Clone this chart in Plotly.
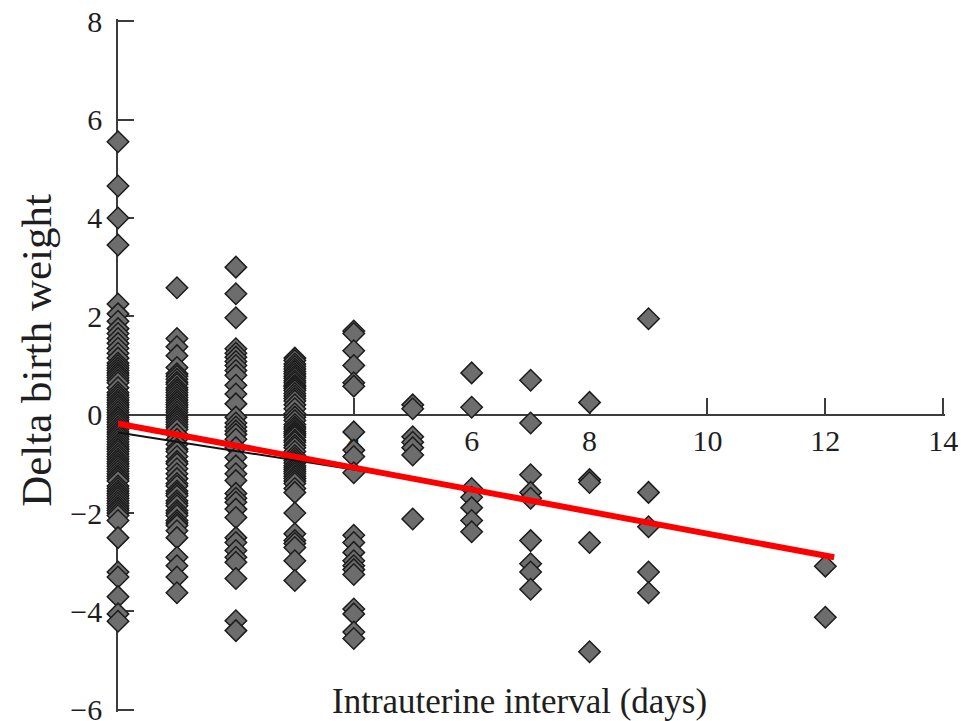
import plotly.graph_objects as go

# ---- data ----
days = [0, 1, 2, 3, 4, 5, 6, 7, 8, 9, 12]

d0 = [5.55, 4.65, 4.0, 3.45, 2.25, 2.05, 1.9, 1.75, 1.65, 1.55, 1.45, 1.35, 1.25,
      1.15, 1.05, 1.0, 0.95, 0.9, 0.85, 0.8, 0.75, 0.7, 0.65, 0.55, 0.45, 0.4,
      0.35, 0.3, 0.25, 0.2, 0.15, 0.1, 0.05, 0.0, -0.05, -0.1, -0.15, -0.2,
      -0.25, -0.3, -0.35, -0.4, -0.45, -0.5, -0.55, -0.6, -0.65, -0.7, -0.75,
      -0.8, -0.85, -0.9, -0.95, -1.0, -1.05, -1.1, -1.15, -1.2, -1.25, -1.3,
      -1.35, -1.45, -1.5, -1.55, -1.6, -1.65, -1.7, -1.75, -1.8, -1.85, -1.9,
      -1.95, -2.0, -2.05, -2.15, -2.5, -3.2, -3.3, -3.7, -4.05, -4.2]
d1 = [2.58, 1.55, 1.38, 1.2, 0.96, 0.83, 0.78, 0.72, 0.66, 0.62, 0.55, 0.5, 0.45,
      0.4, 0.35, 0.3, 0.25, 0.2, 0.15, 0.1, 0.05, 0.0, -0.05, -0.1, -0.15, -0.2,
      -0.25, -0.3, -0.4, -0.5, -0.6, -0.7, -0.75, -0.85, -0.95, -1.0, -1.1,
      -1.2, -1.3, -1.4, -1.45, -1.55, -1.6, -1.65, -1.75, -1.8, -1.85, -1.95,
      -2.0, -2.05, -2.15, -2.2, -2.25, -2.36, -2.5, -2.9, -3.07, -3.3, -3.62]
d2 = [3.0, 2.46, 1.97, 1.34, 1.25, 1.17, 1.08, 1.0, 0.9, 0.8, 0.6, 0.42, 0.22,
      -0.05, -0.17, -0.25, -0.33, -0.4, -0.5, -0.67, -0.87, -1.04, -1.2, -1.34,
      -1.6, -1.7, -1.78, -1.92, -2.09, -2.5, -2.6, -2.76, -2.9, -3.0, -3.33,
      -4.19, -4.39]
d3 = [1.15, 1.1, 1.03, 0.98, 0.93, 0.88, 0.83, 0.78, 0.74, 0.69, 0.65, 0.6,
      0.57, 0.53, 0.49, 0.43, 0.38, 0.33, 0.28, 0.2, 0.12, 0.02, -0.05, -0.12,
      -0.2, -0.25, -0.29, -0.34, -0.38, -0.42, -0.46, -0.52, -0.56, -0.62, -0.67,
      -0.75, -0.83, -0.88, -0.93, -0.98, -1.04, -1.08, -1.12, -1.16, -1.2,
      -1.25, -1.3, -1.35, -1.4, -1.5, -1.58, -2.0, -2.42, -2.56, -2.62, -2.7,
      -2.97, -3.37]
d4 = [1.7, 1.65, 1.3, 1.0, 0.65, 0.58, -0.35, -0.72, -0.85, -1.18, -2.45, -2.6,
      -2.8, -2.97, -3.07, -3.15, -3.25, -3.95, -4.05, -4.42, -4.55]
d5 = [0.2, 0.12, -0.45, -0.56, -0.67, -0.82, -2.12]
d6 = [0.85, 0.15, -1.5, -1.68, -1.89, -2.15, -2.38]
d7 = [0.7, -0.17, -1.22, -1.58, -1.7, -2.56, -3.03, -3.2, -3.55]
d8 = [0.25, -1.32, -1.38, -2.6, -4.82]
d9 = [1.95, -1.58, -2.28, -3.2, -3.62]
d12 = [-3.08, -4.12]

fit_red_x = [-0.05, 12.15]
fit_red_y = [-0.17, -2.9]
fit_black_x = [0, 5.5]
fit_black_y = [-0.36, -1.4]

x_ticks = [2, 4, 6, 8, 10, 12, 14]
y_ticks = [-6, -4, -2, 0, 2, 4, 6, 8]
y_ticktext = ["\u22126", "\u22124", "\u22122", "0", "2", "4", "6", "8"]

# ---- build points ----
columns = [d0, d1, d2, d3, d4, d5, d6, d7, d8, d9, d12]
xs, ys = [], []
for dval, col in zip(days, columns):
    for v in col:
        xs.append(dval)
        ys.append(v)

FONT = "Liberation Serif"
AX = "#3c3c3c"
TXT = "#1e1e1e"

Y_LO, Y_HI = -6.045, 8.045

fig = go.Figure()
fig.add_trace(go.Scatter(
    x=xs, y=ys, mode="markers", cliponaxis=False,
    marker=dict(symbol="diamond", size=16.5, color="#6d6d6d",
                line=dict(color="#1c1c1c", width=1.5)),
    showlegend=False))
fig.add_trace(go.Scatter(
    x=fit_black_x, y=fit_black_y, mode="lines", cliponaxis=False,
    line=dict(color="#111111", width=2), showlegend=False))
fig.add_trace(go.Scatter(
    x=fit_red_x, y=fit_red_y, mode="lines", cliponaxis=False,
    line=dict(color="#ff0000", width=6), showlegend=False))

fig.update_layout(
    width=967, height=721,
    margin=dict(l=118, r=22, t=19, b=9, autoexpand=False),
    paper_bgcolor="white", plot_bgcolor="white",
    font=dict(family=FONT, color=TXT),
    xaxis=dict(range=[0, 14.03], anchor="free",
               position=(0 - Y_LO) / (Y_HI - Y_LO), side="bottom",
               showline=True, linecolor=AX, linewidth=1.6,
               ticks="inside", ticklen=16, tickwidth=1.6, tickcolor=AX,
               tickvals=x_ticks, tickfont=dict(size=30, family=FONT, color=TXT),
               ticklabeloverflow="allow",
               showgrid=False, zeroline=False, layer="below traces",
               automargin=False),
    yaxis=dict(range=[Y_LO, Y_HI], domain=[0, 1],
               showline=True, linecolor=AX, linewidth=1.6,
               ticks="inside", ticklen=16, tickwidth=1.6, tickcolor=AX,
               tickvals=y_ticks, ticktext=y_ticktext, ticklabelstandoff=8,
               tickfont=dict(size=30, family=FONT, color=TXT),
               ticklabeloverflow="allow",
               showgrid=False, zeroline=False, layer="below traces",
               automargin=False),
    annotations=[
        dict(text="Delta birth weight", xref="paper", yref="paper",
             x=-0.098, y=0.5225, textangle=-90, showarrow=False,
             xanchor="center", yanchor="middle",
             font=dict(size=43, family=FONT, color=TXT)),
        dict(text="Intrauterine interval (days)", xref="paper", yref="paper",
             x=0.4855, y=0.0145, showarrow=False,
             xanchor="center", yanchor="middle",
             font=dict(size=35, family=FONT, color=TXT)),
    ],
)

fig.write_html("out.html",
               config={"displayModeBar": False},
               post_script="document.body.style.margin='0px';"
                           "document.body.style.overflow='hidden';")
